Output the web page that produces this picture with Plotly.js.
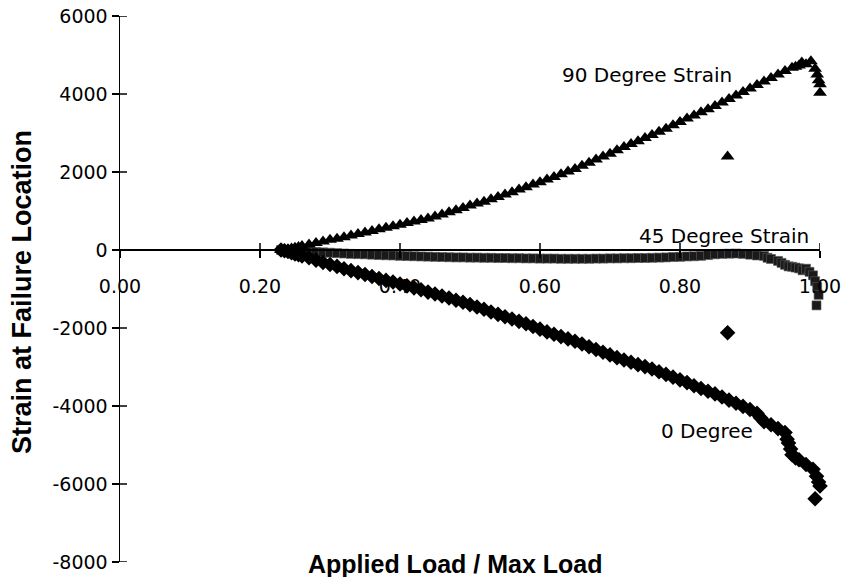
<!DOCTYPE html>
<html>
<head>
<meta charset="utf-8">
<script src="https://cdn.plot.ly/plotly-3.0.1.min.js"></script>
<style>html,body{margin:0;padding:0;background:#fff;}#chart{width:843px;height:577px;}</style>
</head>
<body>
<div id="chart"></div>
<script>
// ---- data ----
var xTickVals = [0, 0.2, 0.4, 0.6, 0.8, 1.0];
var xTickText = ["0.00", "0.20", "0.40", "0.60", "0.80", "1.00"];
var yTickVals = [6000, 4000, 2000, 0, -2000, -4000, -6000, -8000];
var yTickText = ["6000", "4000", "2000", "0", "-2000", "-4000", "-6000", "-8000"];

// 90 degree strain (triangles)
var load90 = [0.23,0.235,0.24,0.245,0.25,0.255,0.26,0.27,0.28,0.29,0.30,0.31,0.32,0.33,0.34,0.35,0.36,0.37,0.38,0.39,0.40,
  0.41,0.42,0.43,0.44,0.45,0.46,0.47,0.48,0.49,0.50,0.51,0.52,0.53,0.54,0.55,0.56,0.57,0.58,0.59,0.60,
  0.61,0.62,0.63,0.64,0.65,0.66,0.67,0.68,0.69,0.70,0.71,0.72,0.73,0.74,0.75,0.76,0.77,0.78,0.79,0.80,
  0.81,0.82,0.83,0.84,0.85,0.86,0.87,0.88,0.89,0.90,0.91,0.92,0.93,0.94,0.95,0.96,0.965,0.97,0.974,0.98,0.987,
  0.993,0.996,0.998,1.0,1.0,0.868];
var strain90 = [0,10,20,40,60,80,100,140,180,220,260,290,330,370,410,450,490,530,570,610,650,
  690,730,770,810,860,910,970,1020,1080,1140,1190,1240,1300,1360,1420,1480,1550,1610,1680,1740,
  1810,1870,1940,2010,2080,2160,2240,2320,2400,2470,2560,2640,2720,2790,2870,2950,3030,3110,3200,3280,
  3370,3450,3530,3610,3690,3780,3870,3960,4050,4140,4230,4320,4410,4500,4590,4670,4700,4730,4810,4760,4840,
  4650,4500,4350,4250,4030,2400];

// 45 degree strain (squares)
var load45 = [0.23,0.235,0.24,0.245,0.25,0.26,0.27,0.28,0.29,0.30,0.31,0.32,0.33,0.34,0.35,0.36,0.37,0.38,0.39,0.40,
  0.41,0.42,0.43,0.44,0.45,0.46,0.47,0.48,0.49,0.50,0.51,0.52,0.53,0.54,0.55,0.56,0.57,0.58,0.59,0.60,
  0.61,0.62,0.63,0.64,0.65,0.66,0.67,0.68,0.69,0.70,0.71,0.72,0.73,0.74,0.75,0.76,0.77,0.78,0.79,0.80,
  0.81,0.82,0.83,0.84,0.85,0.86,0.87,0.88,0.89,0.90,0.91,0.92,0.925,0.93,0.94,0.945,0.95,0.955,0.96,0.965,0.97,0.975,0.98,0.985,
  0.99,0.993,0.996,0.998,0.995];
var strain45 = [0,-5,-10,-15,-20,-30,-40,-50,-60,-70,-80,-90,-100,-105,-110,-120,-130,-135,-140,-150,
  -155,-160,-165,-170,-175,-180,-185,-190,-190,-195,-195,-200,-200,-205,-205,-210,-210,-215,-215,-220,
  -220,-220,-225,-225,-225,-225,-225,-220,-220,-215,-215,-210,-210,-205,-205,-200,-195,-190,-180,-175,
  -165,-160,-150,-130,-110,-100,-95,-90,-100,-120,-140,-150,-200,-230,-280,-330,-380,-420,-430,-450,-470,-520,-480,-560,
  -650,-800,-950,-1150,-1420];

// 0 degree strain (diamonds)
var load0 = [0.23,0.235,0.24,0.245,0.25,0.255,0.26,0.27,0.28,0.29,0.30,0.31,0.32,0.33,0.34,0.35,0.36,0.37,0.38,0.39,0.40,
  0.41,0.42,0.43,0.44,0.45,0.46,0.47,0.48,0.49,0.50,0.51,0.52,0.53,0.54,0.55,0.56,0.57,0.58,0.59,0.60,
  0.61,0.62,0.63,0.64,0.65,0.66,0.67,0.68,0.69,0.70,0.71,0.72,0.73,0.74,0.75,0.76,0.77,0.78,0.79,0.80,
  0.81,0.82,0.83,0.84,0.85,0.86,0.87,0.88,0.89,0.90,0.91,0.915,0.92,0.93,0.94,0.95,0.953,0.955,0.958,0.96,0.965,0.97,0.98,
  0.99,0.995,0.998,1.0,0.993,0.868];
var strain0 = [0,-20,-40,-70,-100,-120,-150,-200,-260,-320,-370,-420,-480,-530,-580,-630,-680,-730,-780,-820,-870,
  -920,-970,-1020,-1080,-1130,-1180,-1230,-1290,-1340,-1400,-1460,-1520,-1590,-1650,-1710,-1770,-1830,-1890,-1960,-2030,
  -2100,-2160,-2220,-2280,-2340,-2410,-2480,-2550,-2620,-2690,-2760,-2820,-2880,-2940,-2990,-3050,-3120,-3190,-3260,-3330,
  -3400,-3480,-3550,-3620,-3690,-3770,-3850,-3930,-4010,-4090,-4190,-4300,-4400,-4480,-4580,-4680,-4850,-4950,-5100,-5250,-5330,-5380,-5500,
  -5620,-5800,-5950,-6050,-6380,-2120];

var labelFont = {family: "DejaVu Sans", size: 20, color: "#000"};

var traces = [
  {x: load45, y: strain45, type: "scatter", mode: "markers", cliponaxis: false, hoverinfo: "skip",
   marker: {symbol: "square", size: 9, color: "#1a1a1a", line: {color: "#5a5a5a", width: 0.6}}},
  {x: load90, y: strain90, type: "scatter", mode: "markers", cliponaxis: false, hoverinfo: "skip",
   marker: {symbol: "triangle-up", size: 12, color: "#000"}},
  {x: load0, y: strain0, type: "scatter", mode: "markers", cliponaxis: false, hoverinfo: "skip",
   marker: {symbol: "diamond", size: 12, color: "#000"}}
];

// inner half of the crossing tick marks on the vertical axis, built from the tick values
var yTickShapes = yTickVals.map(function (v) {
  return {type: "line", xref: "paper", yref: "y", x0: 0, x1: 0.01,
          y0: v, y1: v, line: {color: "#000", width: 1.5}, layer: "above"};
});
// inner (upward) half of the crossing tick marks on the horizontal axis
var xTickShapes = xTickVals.slice(1).map(function (v) {
  return {type: "line", xref: "x", yref: "y", ysizemode: "pixel", yanchor: 0, y0: 0, y1: 7,
          x0: v, x1: v, line: {color: "#000", width: 1.5}, layer: "above"};
});

var layout = {
  width: 843, height: 577,
  margin: {l: 120, r: 23, t: 16, b: 15},
  paper_bgcolor: "#fff", plot_bgcolor: "#fff",
  showlegend: false,
  font: {family: "DejaVu Sans", color: "#000"},
  xaxis: {
    range: [0, 1], anchor: "free", position: 8/14, side: "bottom",
    showline: true, linecolor: "#000", linewidth: 2,
    ticks: "outside", ticklen: 7, tickwidth: 1.5, tickcolor: "#000",
    tickvals: xTickVals, ticktext: xTickText, ticklabelstandoff: 12,
    tickfont: {family: "DejaVu Sans", size: 19, color: "#000"},
    showgrid: false, zeroline: false, fixedrange: true
  },
  yaxis: {
    range: [-8000, 6000], anchor: "x", side: "left",
    showline: true, linecolor: "#000", linewidth: 1.5,
    ticks: "outside", ticklen: 7, tickwidth: 1.5, tickcolor: "#000",
    tickvals: yTickVals, ticktext: yTickText,
    tickfont: {family: "DejaVu Sans", size: 19, color: "#000"},
    showgrid: false, zeroline: false, fixedrange: true
  },
  shapes: yTickShapes.concat(xTickShapes),
  annotations: [
    {text: "90 Degree Strain", x: 0.629, y: 4480, xref: "x", yref: "y", xanchor: "left", yanchor: "middle",
     showarrow: false, font: labelFont},
    {text: "45 Degree Strain", x: 0.739, y: 360, xref: "x", yref: "y", xanchor: "left", yanchor: "middle",
     showarrow: false, font: labelFont},
    {text: "0 Degree", x: 0.770, y: -4640, xref: "x", yref: "y", xanchor: "left", yanchor: "middle",
     showarrow: false, font: labelFont},
    {text: "<b>Applied Load / Max Load</b>", x: 0.4786, y: -0.003, xref: "paper", yref: "paper",
     xanchor: "center", yanchor: "middle", showarrow: false,
     font: {family: "Liberation Sans", size: 25, color: "#000"}},
    {text: "<b>Strain at Failure Location</b>", x: -0.14, y: 0.4945, xref: "paper", yref: "paper",
     xanchor: "center", yanchor: "middle", textangle: -90, showarrow: false,
     font: {family: "Liberation Sans", size: 27, color: "#000"}}
  ]
};

Plotly.newPlot("chart", traces, layout, {staticPlot: true, displayModeBar: false});
</script>
</body>
</html>
